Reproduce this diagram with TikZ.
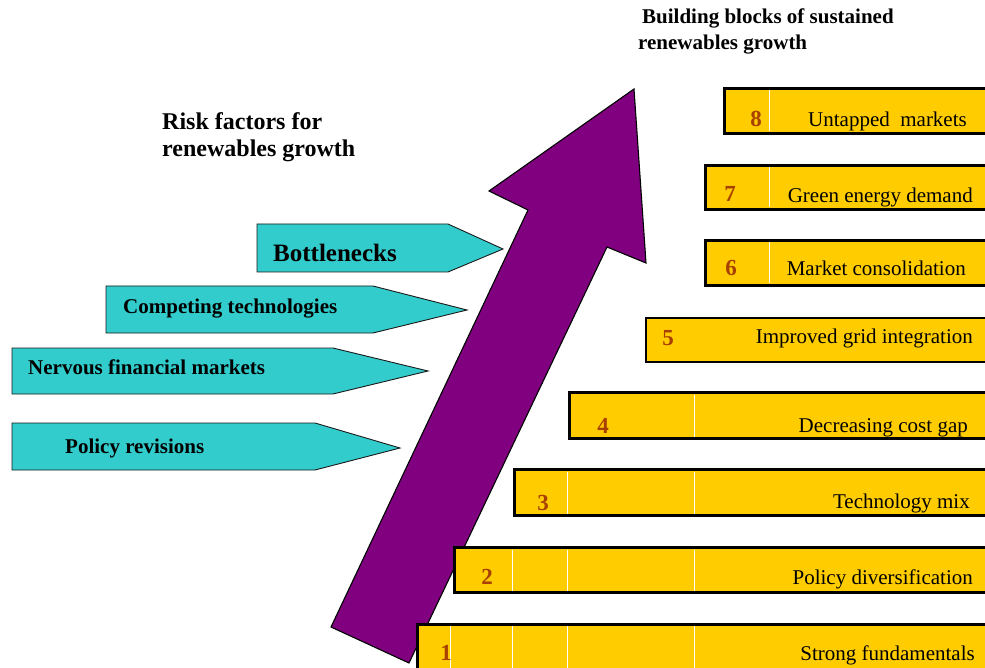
\documentclass[tikz,border=0pt]{standalone}
\usepackage{fontspec}
\setmainfont{Liberation Serif}
\definecolor{cy}{HTML}{33CCCC}
\definecolor{pu}{HTML}{800080}
\definecolor{ye}{HTML}{FFCC00}
\definecolor{nu}{HTML}{A84000}
\definecolor{edge}{HTML}{1A1A1A}
\newcommand\yelbar[4]{%
  \fill[ye] (#1,#2) rectangle (995,#3);
  \draw[line width=#4, line join=miter] (995,#2) -- (#1,#2) -- (#1,#3) -- (995,#3);
}
\newcommand\wline[3]{\draw[white, line width=0.9pt] (#1,#2+2) -- (#1,#3-2);}
\begin{document}
\begin{tikzpicture}[x=1pt,y=-1pt,
  riskshape/.style={fill=cy, draw=edge, line width=0.9pt, line join=miter},
  risktext/.style={anchor=base west, inner sep=0pt, font=\bfseries\fontsize{21}{25}\selectfont},
  numtext/.style={anchor=base, inner sep=0pt, text=nu, font=\bfseries\fontsize{23}{27}\selectfont},
  lbltext/.style={anchor=base east, inner sep=0pt, font=\fontsize{21}{25}\selectfont},
  titletext/.style={anchor=base west, inner sep=0pt, align=left}
]
\useasboundingbox (0,0) rectangle (985,668);
\clip (0,0) rectangle (985,668);

% risk factor arrows
\path[riskshape] (257,224) -- (448,224) -- (503,249) -- (448,272) -- (257,272) -- cycle;
\path[riskshape] (106,286) -- (373,286) -- (467,310) -- (373,333) -- (106,333) -- cycle;
\path[riskshape] (12,348) -- (333,348) -- (428,371) -- (333,394) -- (12,394) -- cycle;
\path[riskshape] (12,423) -- (315,423) -- (400,448) -- (315,470) -- (12,470) -- cycle;

\node[risktext, font=\bfseries\fontsize{25}{28}\selectfont] (rb) at (273,262) {Bottlenecks};
\node[risktext] (rc) at (123,313) {Competing technologies};
\node[risktext] (rn) at (28,374) {Nervous financial markets};
\node[risktext] (rp) at (65,453) {Policy revisions};

% big purple arrow
\filldraw[fill=pu, draw=black, line width=1.1pt, line join=miter]
  (331,627) -- (528,210) -- (489,191) -- (634,89) -- (646,263) -- (607,247) -- (409,663) -- cycle;

% building blocks bars
\yelbar{417}{624}{680}{3pt}
\wline{450}{624}{680}\wline{512}{624}{680}\wline{567}{624}{680}\wline{694}{624}{680}
\yelbar{454.5}{547.5}{592.5}{3pt}
\wline{512}{547.5}{592.5}\wline{567}{547.5}{592.5}\wline{694}{547.5}{592.5}
\yelbar{514.5}{469.5}{515.5}{3pt}
\wline{567}{469.5}{515.5}\wline{694}{469.5}{515.5}
\yelbar{569.5}{392.5}{438.5}{3pt}
\wline{694}{392.5}{438.5}
\yelbar{646}{318}{362}{1.6pt}
\yelbar{705.5}{240.5}{285.5}{3pt}
\wline{769}{240.5}{285.5}
\yelbar{705.5}{165.5}{209.5}{3pt}
\wline{769}{165.5}{209.5}
\yelbar{724.5}{88.5}{133.5}{3pt}
\wline{769}{88.5}{133.5}

\node[numtext] (n1) at (446,660) {1};
\node[numtext] (n2) at (487,584) {2};
\node[numtext] (n3) at (543,510) {3};
\node[numtext] (n4) at (603,433) {4};
\node[numtext] (n5) at (668,345) {5};
\node[numtext] (n6) at (731,276) {6};
\node[numtext] (n7) at (730,202) {7};
\node[numtext] (n8) at (756,127) {8};

\node[lbltext] (l1) at (975,660) {Strong fundamentals};
\node[lbltext] (l2) at (973,584) {Policy diversification};
\node[lbltext] (l3) at (970,508) {Technology mix};
\node[lbltext] (l4) at (968,432) {Decreasing cost gap};
\node[lbltext] (l5) at (973,343) {Improved grid integration};
\node[lbltext] (l6) at (966,276) {Market consolidation};
\node[lbltext] (l7) at (973,203) {Green energy demand};
\node[lbltext] (l8) at (967,127) {Untapped\ \ markets};

% titles
\node[titletext, font=\bfseries\fontsize{24}{27}\selectfont] (t1) at (162,130) {Risk factors for};
\node[titletext, font=\bfseries\fontsize{24}{27}\selectfont] (t2) at (162,157) {renewables growth};
\node[titletext, font=\bfseries\fontsize{21}{26}\selectfont] (t3) at (642,24) {Building blocks of sustained};
\node[titletext, font=\bfseries\fontsize{21}{26}\selectfont] (t4) at (638,50) {renewables growth};
\end{tikzpicture}
\end{document}
